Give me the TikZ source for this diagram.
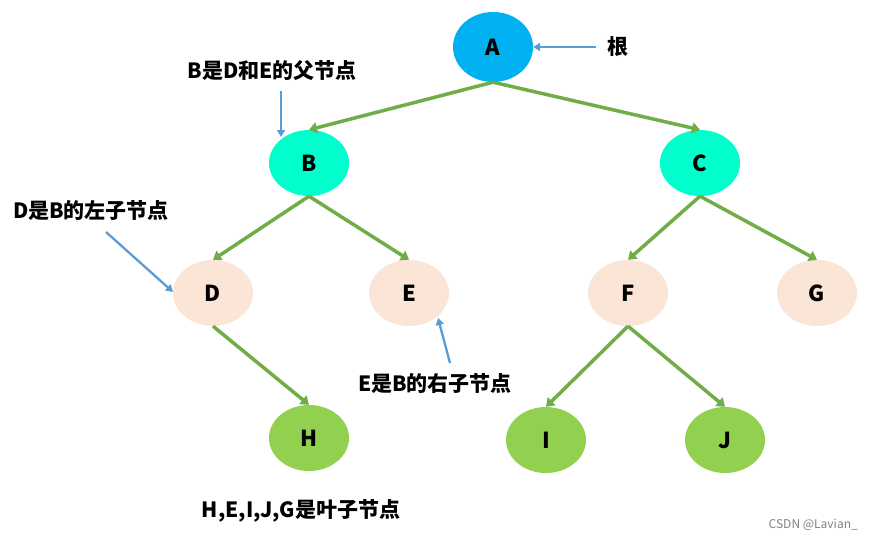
\documentclass[tikz,border=0pt]{standalone}
\usepackage{fontspec}
\setmainfont{Noto Sans CJK SC}
\usetikzlibrary{shapes.geometric,arrows.meta}
\definecolor{rootblue}{HTML}{00B0F0}
\definecolor{innercyan}{HTML}{00FFCC}
\definecolor{peach}{HTML}{FBE5D6}
\definecolor{leafgreen}{HTML}{92D050}
\definecolor{edgegreen}{HTML}{70AD47}
\definecolor{notearrow}{HTML}{5B9BD5}
\tikzset{
    treenode/.style={ellipse, inner sep=0pt, minimum width=80pt,
        minimum height=66pt, font=\fontsize{22}{24}\selectfont\bfseries},
    treeedge/.style={edgegreen, line width=3.5pt,
        -{Triangle[width=11pt,length=8pt]}},
    noteedge/.style={notearrow, line width=2.3pt,
        -{Triangle[width=8pt,length=7pt]}},
    notetext/.style={font=\fontsize{21}{23}\selectfont\bfseries, inner sep=0pt}
}

\begin{document}
\begin{tikzpicture}[x=1pt, y=-1pt]
        \useasboundingbox (0,0) rectangle (872,541);
        % nodes of the tree
        \node[treenode, fill=rootblue, minimum height=70pt] (A) at (493,47) {A};
        \node[treenode, fill=innercyan] (B) at (309,163) {B};
        \node[treenode, fill=innercyan] (C) at (700,163) {C};
        \node[treenode, fill=peach] (D) at (213,293) {D};
        \node[treenode, fill=peach] (E) at (409,293) {E};
        \node[treenode, fill=peach] (F) at (628,293) {F};
        \node[treenode, fill=peach] (G) at (817,293) {G};
        \node[treenode, fill=leafgreen] (H) at (309,438) {H};
        \node[treenode, fill=leafgreen] (I) at (546,440) {I};
        \node[treenode, fill=leafgreen] (J) at (725,440) {J};
        % show edges
        \foreach \from/\to in {A/B, A/C, B/D, B/E, C/F, C/G, D/H, F/I, F/J}
            \draw[treeedge] (\from.south) -- (\to.north);
        % notes
        \node[notetext] (root) at (618,47) {根};
        \coordinate (rootfrom) at (596,47);
        \draw[noteedge] (rootfrom) -- (A.east);
        \node[notetext] (parent) at (272,71) {B是D和E的父节点};
        \coordinate (parentfrom) at (281,91);
        \coordinate (parentto) at (281,137);
        \draw[noteedge] (parentfrom) -- (parentto);
        \node[notetext] (left) at (91,211) {D是B的左子节点};
        \coordinate (leftfrom) at (106,232);
        \coordinate (leftto) at (173,292);
        \draw[noteedge] (leftfrom) -- (leftto);
        \node[notetext] (right) at (435,384) {E是B的右子节点};
        \coordinate (rightfrom) at (450,363);
        \coordinate (rightto) at (438,318);
        \draw[noteedge] (rightfrom) -- (rightto);
        \node[notetext] (leaves) at (301,511) {H,E,I,J,G是叶子节点};
        % watermark
        \node[anchor=east, text=gray, font=\fontsize{12}{13}\selectfont,
            inner sep=0pt] (mark) at (858,525) {CSDN @Lavian\_};
    \end{tikzpicture}
\end{document}
